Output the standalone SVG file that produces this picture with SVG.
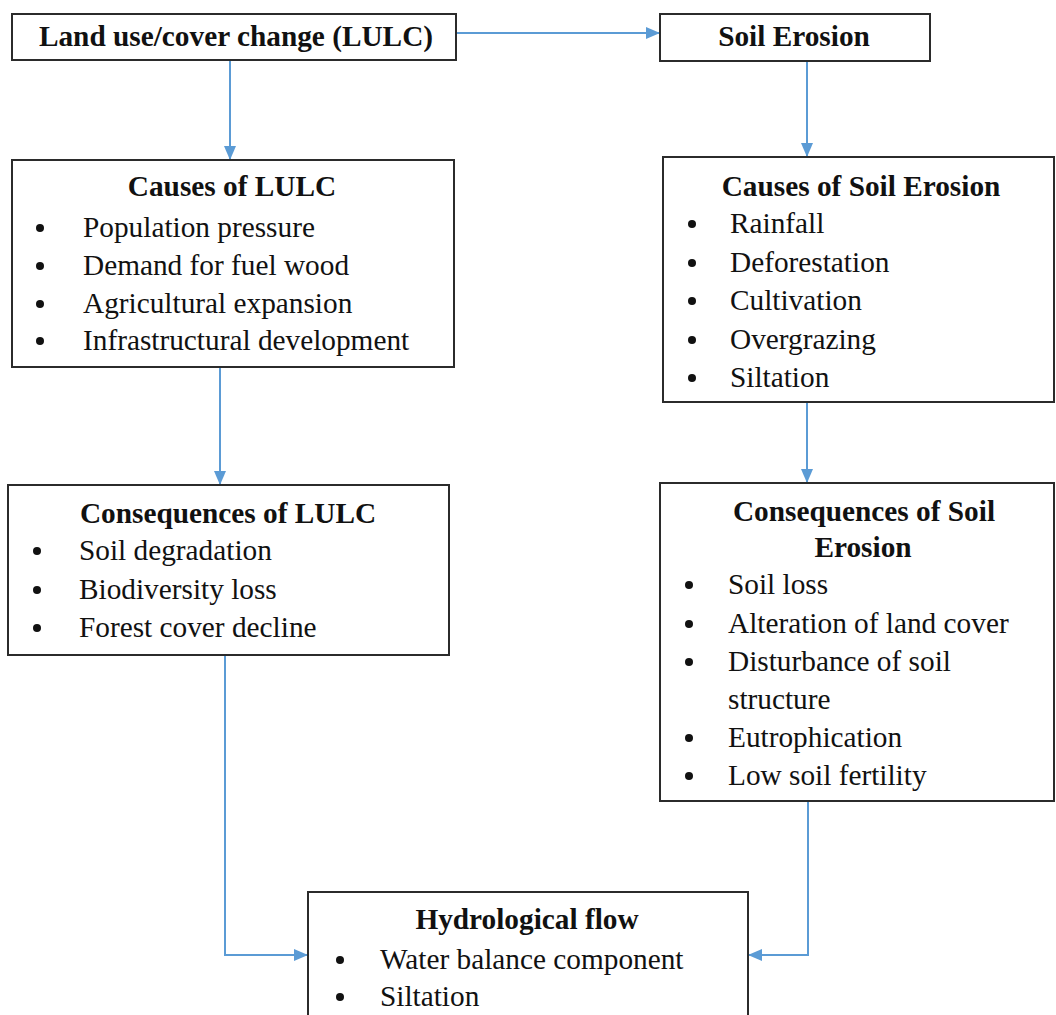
<svg xmlns="http://www.w3.org/2000/svg" width="1056" height="1015" viewBox="0 0 1056 1015">
<defs>
<style>
.box{fill:#fff;stroke:#2b2b2b;stroke-width:2}
.t{font-family:"Liberation Serif","Times New Roman",serif;font-size:29.3px;fill:#111}
.b{font-weight:bold;text-anchor:middle}
.c{fill:none;stroke:#5b9bd5;stroke-width:2}
.dot{fill:#111}
</style>
<marker id="ah" viewBox="0 0 14 12" refX="14" refY="6" markerWidth="14" markerHeight="12" markerUnits="userSpaceOnUse" orient="auto">
<path d="M0,0 L14,6 L0,12 Z" fill="#5b9bd5"/>
</marker>
</defs>
<rect width="1056" height="1015" fill="#fff"/>
<g id="connectors">
<path class="c" d="M456,33 H660" marker-end="url(#ah)"/>
<path class="c" d="M230,60 V160" marker-end="url(#ah)"/>
<path class="c" d="M220,367 V485" marker-end="url(#ah)"/>
<path class="c" d="M807,61 V157" marker-end="url(#ah)"/>
<path class="c" d="M807,402 V483" marker-end="url(#ah)"/>
<path class="c" d="M225,655 V955 H308" marker-end="url(#ah)"/>
<path class="c" d="M808,801 V955 H748" marker-end="url(#ah)"/>
</g>
<g id="lulc">
<rect class="box" x="12" y="14" width="444" height="46"/>
<text class="t b" x="236" y="46">Land use/cover change (LULC)</text>
</g>
<g id="soil-erosion">
<rect class="box" x="660" y="14" width="270" height="47"/>
<text class="t b" x="794" y="46">Soil Erosion</text>
</g>
<g id="causes-lulc">
<rect class="box" x="12" y="160" width="442" height="207"/>
<text class="t b" x="232" y="196">Causes of LULC</text>
<circle class="dot" cx="40" cy="228" r="4"/><text class="t" x="83" y="237">Population pressure</text>
<circle class="dot" cx="40" cy="266" r="4"/><text class="t" x="83" y="275">Demand for fuel wood</text>
<circle class="dot" cx="40" cy="304" r="4"/><text class="t" x="83" y="313">Agricultural expansion</text>
<circle class="dot" cx="40" cy="341" r="4"/><text class="t" x="83" y="350">Infrastructural development</text>
</g>
<g id="causes-soil">
<rect class="box" x="663" y="157" width="391" height="245"/>
<text class="t b" x="861" y="196">Causes of Soil Erosion</text>
<circle class="dot" cx="692" cy="224" r="4"/><text class="t" x="730" y="233">Rainfall</text>
<circle class="dot" cx="692" cy="263" r="4"/><text class="t" x="730" y="272">Deforestation</text>
<circle class="dot" cx="692" cy="301" r="4"/><text class="t" x="730" y="310">Cultivation</text>
<circle class="dot" cx="692" cy="340" r="4"/><text class="t" x="730" y="349">Overgrazing</text>
<circle class="dot" cx="692" cy="378" r="4"/><text class="t" x="730" y="387">Siltation</text>
</g>
<g id="cons-lulc">
<rect class="box" x="8" y="485" width="441" height="170"/>
<text class="t b" x="228" y="523">Consequences of LULC</text>
<circle class="dot" cx="37" cy="551" r="4"/><text class="t" x="79" y="560">Soil degradation</text>
<circle class="dot" cx="37" cy="590" r="4"/><text class="t" x="79" y="599">Biodiversity loss</text>
<circle class="dot" cx="37" cy="628" r="4"/><text class="t" x="79" y="637">Forest cover decline</text>
</g>
<g id="cons-soil">
<rect class="box" x="660" y="483" width="394" height="318"/>
<text class="t b" x="864" y="521">Consequences of Soil</text>
<text class="t b" x="863" y="557">Erosion</text>
<circle class="dot" cx="689" cy="585" r="4"/><text class="t" x="728" y="594">Soil loss</text>
<circle class="dot" cx="689" cy="624" r="4"/><text class="t" x="728" y="633">Alteration of land cover</text>
<circle class="dot" cx="689" cy="662" r="4"/><text class="t" x="728" y="671">Disturbance of soil</text>
<text class="t" x="728" y="709">structure</text>
<circle class="dot" cx="689" cy="738" r="4"/><text class="t" x="728" y="747">Eutrophication</text>
<circle class="dot" cx="689" cy="776" r="4"/><text class="t" x="728" y="785">Low soil fertility</text>
</g>
<g id="hydro">
<rect class="box" x="308" y="892" width="440" height="140"/>
<text class="t b" x="527" y="929">Hydrological flow</text>
<circle class="dot" cx="340" cy="960" r="4"/><text class="t" x="380" y="969">Water balance component</text>
<circle class="dot" cx="340" cy="997" r="4"/><text class="t" x="380" y="1006">Siltation</text>
</g>
</svg>
